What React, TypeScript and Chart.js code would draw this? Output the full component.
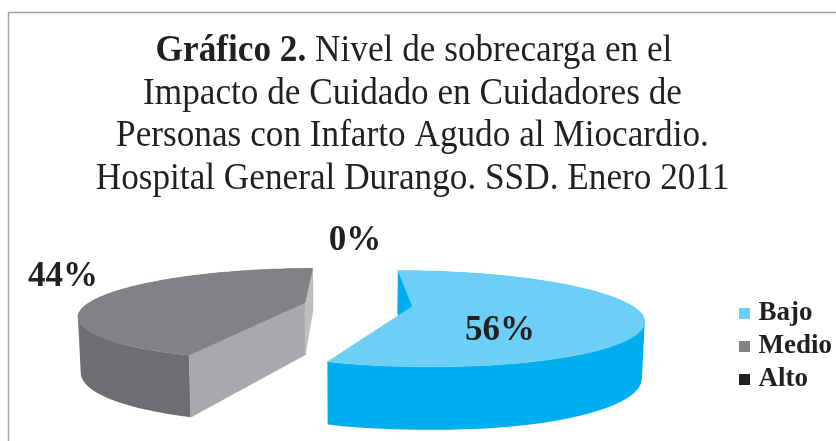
import React, { useEffect, useRef } from "react";
import { Chart, registerables } from "chart.js";

Chart.register(...registerables);

const categories = ["Bajo", "Medio", "Alto"];
const values = [56, 44, 0];
const topColors = ["#6dcff6", "#808285", "#231f20"];
const rimColors = ["#00aeef", "#6d6e71", "#231f20"];
const startCutColors = ["#00aeef", "#a7a9ac", "#231f20"];
const endCutColors = ["#00aeef", "#bcbec0", "#231f20"];
const titleBold = "Gráfico 2.";
const titleLines = [
  " Nivel de sobrecarga en el",
  "Impacto de Cuidado en Cuidadores de",
  "Personas con Infarto Agudo al Miocardio.",
  "Hospital General Durango. SSD. Enero 2011",
];

const SERIF = '"Liberation Serif", "Times New Roman", serif';
const INK = "#231f20";
// perspective projection of the flat pie
const X0 = 358, Y0 = 304.5, RX = 218, A = 43.9, B = 0.255;
const labelPos = [
  { x: 500, y: 331 },
  { x: 63, y: 277 },
  { x: 355, y: 241 },
];

function project(u: number, v: number, low: boolean) {
  const w = 1 - B * v;
  let x = X0 + (RX * u) / w;
  let y = Y0 + (A * v) / w;
  if (low) {
    x = X0 + (x - X0) * 0.99;
    y += 52.5 + 10.5 * Math.max(-1, Math.min(1, v));
  }
  return [x, y];
}

function fillPoly(ctx: CanvasRenderingContext2D, pts: number[][], color: string) {
  ctx.beginPath();
  pts.forEach((p, i) => (i ? ctx.lineTo(p[0], p[1]) : ctx.moveTo(p[0], p[1])));
  ctx.closePath();
  ctx.fillStyle = color;
  ctx.strokeStyle = color;
  ctx.lineWidth = 0.5;
  ctx.fill();
  ctx.stroke();
}

function fillQuads(ctx: CanvasRenderingContext2D, quads: number[][][], color: string) {
  ctx.beginPath();
  quads.forEach((q) => {
    let area = 0;
    q.forEach((p, i) => {
      const n = q[(i + 1) % q.length];
      area += p[0] * n[1] - n[0] * p[1];
    });
    const pts = area < 0 ? q.slice().reverse() : q;
    pts.forEach((p, i) => (i ? ctx.lineTo(p[0], p[1]) : ctx.moveTo(p[0], p[1])));
    ctx.closePath();
  });
  ctx.fillStyle = color;
  ctx.fill("nonzero");
}

function squeezedText(
  ctx: CanvasRenderingContext2D,
  text: string,
  x: number,
  y: number,
  sx: number,
) {
  ctx.save();
  ctx.translate(x, y);
  ctx.scale(sx, 1);
  ctx.fillText(text, 0, 0);
  ctx.restore();
}

const framePlugin = {
  id: "frameAndTitle",
  beforeDraw(chart: any) {
    const ctx = chart.ctx as CanvasRenderingContext2D;
    ctx.save();
    ctx.strokeStyle = "#a3a3a3";
    ctx.lineWidth = 1.5;
    ctx.beginPath();
    ctx.moveTo(8.5, 441);
    ctx.lineTo(8.5, 12.5);
    ctx.lineTo(836, 12.5);
    ctx.stroke();
    ctx.fillStyle = INK;
    ctx.textBaseline = "alphabetic";
    const cx = 412.5;
    const size = 38;
    const sx = 0.927;
    const bFont = `bold ${size}px ${SERIF}`;
    const rFont = `${size}px ${SERIF}`;
    ctx.font = bFont;
    const bw = ctx.measureText(titleBold).width * sx;
    ctx.font = rFont;
    const rw = ctx.measureText(titleLines[0]).width * sx;
    const left = cx + 1.5 - (bw + rw) / 2;
    ctx.textAlign = "left";
    ctx.font = bFont;
    squeezedText(ctx, titleBold, left, 61, sx);
    ctx.font = rFont;
    squeezedText(ctx, titleLines[0], left + bw, 61, sx);
    ctx.textAlign = "center";
    squeezedText(ctx, titleLines[1], cx, 103.5, sx);
    squeezedText(ctx, titleLines[2], cx, 146, sx);
    squeezedText(ctx, titleLines[3], cx, 188.5, sx);
    ctx.restore();
  },
};

const pie3dPlugin = {
  id: "pie3d",
  beforeDatasetsDraw(chart: any) {
    const ctx = chart.ctx as CanvasRenderingContext2D;
    const arcs = chart.getDatasetMeta(0).data;
    ctx.save();
    arcs.forEach((arc: any, i: number) => {
      const s = arc.startAngle as number;
      const e = arc.endAngle as number;
      if (e - s < 1e-6) return;
      const mid = (s + e) / 2;
      const k = arc.options.offset / arc.outerRadius;
      const u0 = Math.cos(mid) * k;
      const v0 = Math.sin(mid) * k;
      const steps = 90;
      const top: number[][] = [];
      const low: number[][] = [];
      for (let n = 0; n <= steps; n++) {
        const t = s + ((e - s) * n) / steps;
        const u = u0 + Math.cos(t);
        const v = v0 + Math.sin(t);
        top.push(project(u, v, false));
        low.push(project(u, v, true));
      }
      const apexTop = project(u0, v0, false);
      const apexLow = project(u0, v0, true);
      // rim: one path of quads, all wound the same way, so no seams show
      const quads: number[][][] = [];
      for (let n = 0; n < steps; n++) {
        quads.push([top[n], top[n + 1], low[n + 1], low[n]]);
      }
      fillQuads(ctx, quads, rimColors[i]);
      // cut faces seen from the camera
      const camV = 1 / B;
      const seen = (nu: number, nv: number) => nu * (0 - u0) + nv * (camV - v0) > 0;
      if (seen(Math.sin(s), -Math.cos(s))) {
        fillPoly(ctx, [apexTop, top[0], low[0], apexLow], startCutColors[i]);
      }
      if (seen(-Math.sin(e), Math.cos(e))) {
        fillPoly(ctx, [apexTop, top[steps], low[steps], apexLow], endCutColors[i]);
      }
      // top face
      fillPoly(ctx, [apexTop, ...top], topColors[i]);
    });
    // percentage labels
    ctx.fillStyle = INK;
    ctx.font = `bold 35px ${SERIF}`;
    ctx.textAlign = "center";
    ctx.textBaseline = "middle";
    values.forEach((v, i) => ctx.fillText(`${v}%`, labelPos[i].x, labelPos[i].y));
    ctx.restore();
    return false;
  },
};

function marker(color: string) {
  const c = document.createElement("canvas");
  c.width = 11;
  c.height = 11;
  const g = c.getContext("2d")!;
  g.fillStyle = color;
  g.fillRect(0, 0, 11, 11);
  return c;
}

export default function App() {
  const ref = useRef<HTMLCanvasElement>(null);
  useEffect(() => {
    document.body.style.margin = "0";
    document.body.style.background = "#fff";
    const chart = new Chart(ref.current!, {
      type: "pie",
      data: {
        labels: categories,
        datasets: [
          {
            data: values,
            backgroundColor: topColors,
            borderWidth: 0,
            offset: 25,
          } as any,
        ],
      },
      options: {
        animation: false,
        responsive: false,
        rotation: -1,
        radius: 100,
        layout: { padding: { top: 251, right: -6, bottom: 0, left: 0 } },
        plugins: {
          title: { display: false },
          tooltip: { enabled: false },
          legend: {
            display: true,
            position: "right",
            labels: {
              font: { family: SERIF, size: 27, weight: "bold" },
              color: INK,
              padding: 6,
              boxWidth: 1,
              boxHeight: 1,
              usePointStyle: true,
              generateLabels: () =>
                categories.map((t, i) => ({
                  text: t,
                  fillStyle: topColors[i],
                  strokeStyle: topColors[i],
                  lineWidth: 0,
                  pointStyle: marker(topColors[i]),
                  hidden: false,
                  index: i,
                  fontColor: INK,
                })),
            },
          },
        },
      } as any,
      plugins: [framePlugin, pie3dPlugin],
    });
    return () => chart.destroy();
  }, []);
  return (
    <div style={{ position: "absolute", left: 0, top: 0, width: 836, height: 441 }}>
      <canvas ref={ref} width={836} height={441} style={{ display: "block" }} />
    </div>
  );
}
